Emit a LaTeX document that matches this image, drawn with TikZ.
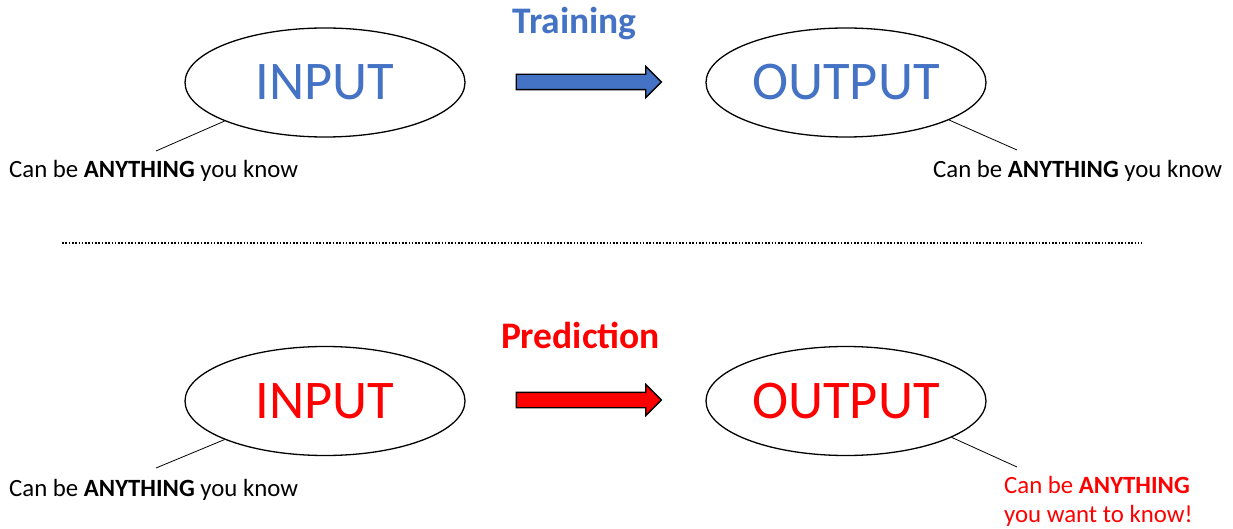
\documentclass[tikz,border=0pt]{standalone}
\usepackage{fontspec}
\setmainfont{Carlito}
\usetikzlibrary{shapes.geometric,shapes.arrows}
\definecolor{tblue}{HTML}{4472C4}
\definecolor{tred}{HTML}{FF0000}
\begin{document}
\begin{tikzpicture}[x=1pt,y=-1pt,
  bubble/.style={ellipse,draw=black,line width=1.3pt,fill=white,minimum width=280pt,minimum height=109pt,inner sep=0pt,font=\fontsize{54.5}{60}\selectfont},
  blockarrow/.style={single arrow,draw=black,line width=1.3pt,minimum height=145pt,inner xsep=0pt,inner ysep=7pt,text height=0pt,text depth=0pt,text width=0pt,single arrow head extend=8pt,single arrow tip angle=90,single arrow head indent=0pt,anchor=center},
  note/.style={font=\fontsize{24.8}{29.5}\selectfont,inner sep=0pt},
  heading/.style={font=\fontsize{37.5}{42}\selectfont\bfseries,inner sep=0pt},
  callout/.style={line width=0.8pt}]
\useasboundingbox[fill=white] (0,0) rectangle (1233,529);

% top row
\node[heading,text=tblue,anchor=base] (train) at (574.5,34) {Training};
\node[bubble,text=tblue] (inT) at (325,82.5) {INPUT};
\node[bubble,text=tblue] (outT) at (846,82.5) {OUTPUT};
\node[blockarrow,fill=tblue] (arrT) at (585,82) {};
\node[note,anchor=base west] (noteTL) at (9,178) {Can be \textbf{ANYTHING} you know};
\node[note,anchor=base west] (noteTR) at (933,178) {Can be \textbf{ANYTHING} you know};
\coordinate (cTL) at (156,151);
\coordinate (cTR) at (1017,150);
\draw[callout] (inT.201.7) -- (cTL);
\draw[callout] (outT.340.7) -- (cTR);

% divider
\coordinate (divL) at (62,243);
\coordinate (divR) at (1142,243);
\draw[line width=1.4pt,dash pattern=on 1.6pt off 1.7pt] (divL) -- (divR);

% bottom row
\node[heading,text=tred,anchor=base] (pred) at (580.5,348) {Prediction};
\node[bubble,text=tred] (inB) at (325,401) {INPUT};
\node[bubble,text=tred] (outB) at (846,401) {OUTPUT};
\node[blockarrow,fill=tred] (arrB) at (585,400) {};
\node[note,anchor=base west] (noteBL) at (9,496) {Can be \textbf{ANYTHING} you know};
\node[note,text=tred,align=left,anchor=north west] (noteBR) at (1004,476) {Can be \textbf{ANYTHING}\\you want to know!};
\coordinate (cBL) at (156,468);
\coordinate (cBR) at (1017,467);
\draw[callout] (inB.201.8) -- (cBL);
\draw[callout] (outB.341.3) -- (cBR);
\end{tikzpicture}
\end{document}
